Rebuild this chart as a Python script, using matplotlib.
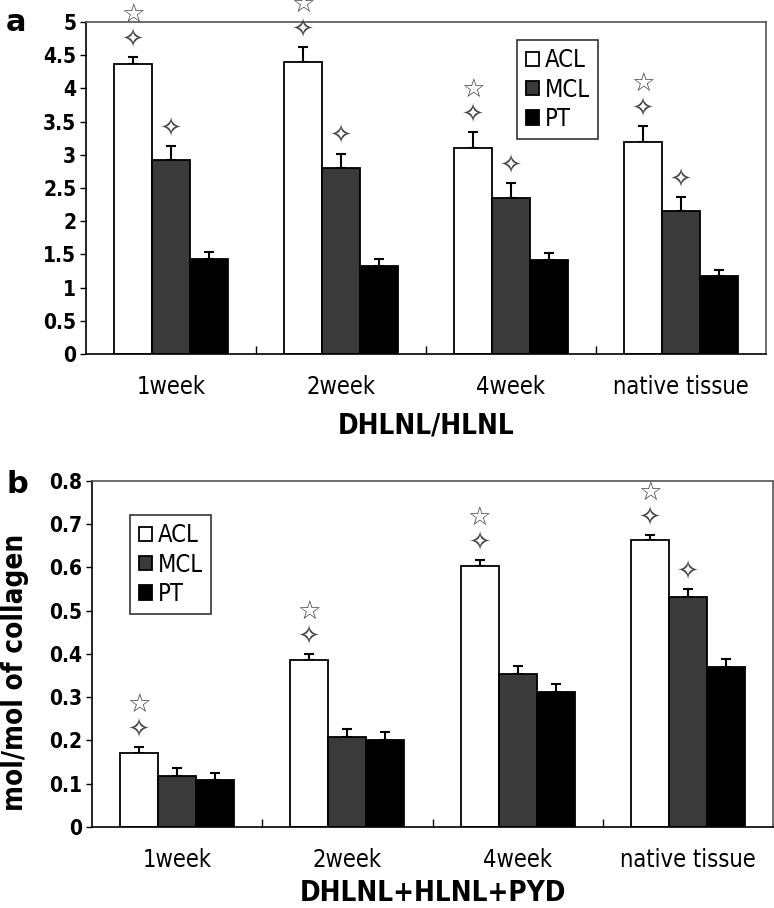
import numpy as np
import matplotlib.pyplot as plt
from matplotlib.ticker import FixedLocator, FormatStrFormatter

plt.rcParams['font.family'] = ['DejaVu Sans']
plt.rcParams['font.stretch'] = 'condensed'

groups = ['1week', '2week', '4week', 'native tissue']
series = ['ACL', 'MCL', 'PT']
colors = ['white', '#3a3a3a', 'black']

# panel a: DHLNL/HLNL
a_acl = [4.37, 4.40, 3.11, 3.19]
a_acl_err = [0.11, 0.23, 0.23, 0.24]
a_mcl = [2.92, 2.80, 2.35, 2.15]
a_mcl_err = [0.21, 0.22, 0.22, 0.21]
a_pt = [1.43, 1.33, 1.41, 1.17]
a_pt_err = [0.11, 0.10, 0.11, 0.10]
# marks: 2 = star + diamond, 1 = diamond only, 0 = none
a_marks = [[2, 2, 2, 2], [1, 1, 1, 1], [0, 0, 0, 0]]

# panel b: DHLNL+HLNL+PYD
b_acl = [0.170, 0.385, 0.603, 0.663]
b_acl_err = [0.014, 0.015, 0.015, 0.013]
b_mcl = [0.118, 0.208, 0.354, 0.532]
b_mcl_err = [0.019, 0.019, 0.019, 0.018]
b_pt = [0.108, 0.201, 0.313, 0.371]
b_pt_err = [0.018, 0.019, 0.018, 0.018]
b_marks = [[2, 2, 2, 2], [0, 0, 0, 1], [0, 0, 0, 0]]

fig = plt.figure(figsize=(7.74, 9.08), dpi=100)
ax1 = fig.add_axes([0.1111, 0.6101, 0.8786, 0.3656])
ax2 = fig.add_axes([0.1189, 0.0892, 0.8798, 0.3811])

w = 0.2235
x = np.arange(len(groups))


def panel(ax, vals, errs, marks, ymax, ystep, xlabel, xlpad, legpos):
    for k in range(3):
        v = np.array(vals[k])
        e = np.array(errs[k])
        pos = x + (k - 1) * w
        ax.bar(pos, v, w, color=colors[k], edgecolor='black', linewidth=1.3,
               label=series[k], zorder=2)
        ax.errorbar(pos, v, yerr=[np.zeros(len(v)), e], fmt='none',
                    ecolor='black', elinewidth=1.5, capsize=3.5, capthick=1.5,
                    zorder=1)
        for i in range(len(v)):
            top = v[i] + e[i]
            if marks[k][i] >= 1:
                ax.annotate('\u2727', (pos[i], top), xytext=(0, 12),
                            textcoords='offset points', ha='center', va='center',
                            fontsize=19, color='#444444', fontstretch='normal',
                            annotation_clip=False)
            if marks[k][i] == 2:
                ax.annotate('\u2606', (pos[i], top), xytext=(0, 29.5),
                            textcoords='offset points', ha='center', va='center',
                            fontsize=19, color='#444444', fontstretch='normal',
                            annotation_clip=False)
    ax.set_xlim(-0.5, len(groups) - 0.5)
    ax.set_ylim(0, ymax)
    ax.set_yticks(np.arange(0, ymax + ystep / 2, ystep))
    ax.yaxis.set_major_formatter(FormatStrFormatter('%g'))
    ax.tick_params(axis='y', direction='out', length=4, width=1,
                   labelsize=15, pad=3)
    for t in ax.get_yticklabels():
        t.set_fontweight('bold')
    ax.set_xticks(x)
    ax.set_xticklabels(groups, fontsize=17)
    ax.tick_params(axis='x', which='major', length=0, pad=15)
    ax.xaxis.set_minor_locator(FixedLocator([0.5, 1.5, 2.5]))
    ax.tick_params(axis='x', which='minor', direction='in', length=6, width=1)
    ax.set_xlabel(xlabel, fontsize=20, fontweight='bold', labelpad=xlpad)
    ax.spines['left'].set_linewidth(1.2)
    ax.spines['bottom'].set_linewidth(1.2)
    for s in ['top', 'right']:
        ax.spines[s].set_color('#555555')
        ax.spines[s].set_linewidth(1.2)
    leg = ax.legend(loc='upper left', bbox_to_anchor=legpos, fontsize=17,
                    frameon=True, fancybox=False, edgecolor='black',
                    handlelength=0.55, handleheight=0.55, handletextpad=0.25,
                    labelspacing=0.22, borderpad=0.36, borderaxespad=0)
    leg.get_frame().set_linewidth(1.2)


panel(ax1, [a_acl, a_mcl, a_pt], [a_acl_err, a_mcl_err, a_pt_err], a_marks,
      5, 0.5, 'DHLNL/HLNL', 9, (0.634, 0.946))
panel(ax2, [b_acl, b_mcl, b_pt], [b_acl_err, b_mcl_err, b_pt_err], b_marks,
      0.8, 0.1, 'DHLNL+HLNL+PYD', 5, (0.056, 0.902))

ax2.set_ylabel('mol/mol of collagen', fontsize=20, fontweight='bold')
ax2.yaxis.set_label_coords(-0.092, 0.448)

fig.text(0.008, 0.975, 'a', fontsize=22, fontweight='bold', fontstretch='normal',
         ha='left', va='center')
fig.text(0.008, 0.466, 'b', fontsize=22, fontweight='bold', fontstretch='normal',
         ha='left', va='center')

fig.savefig('out.png', dpi=100)
